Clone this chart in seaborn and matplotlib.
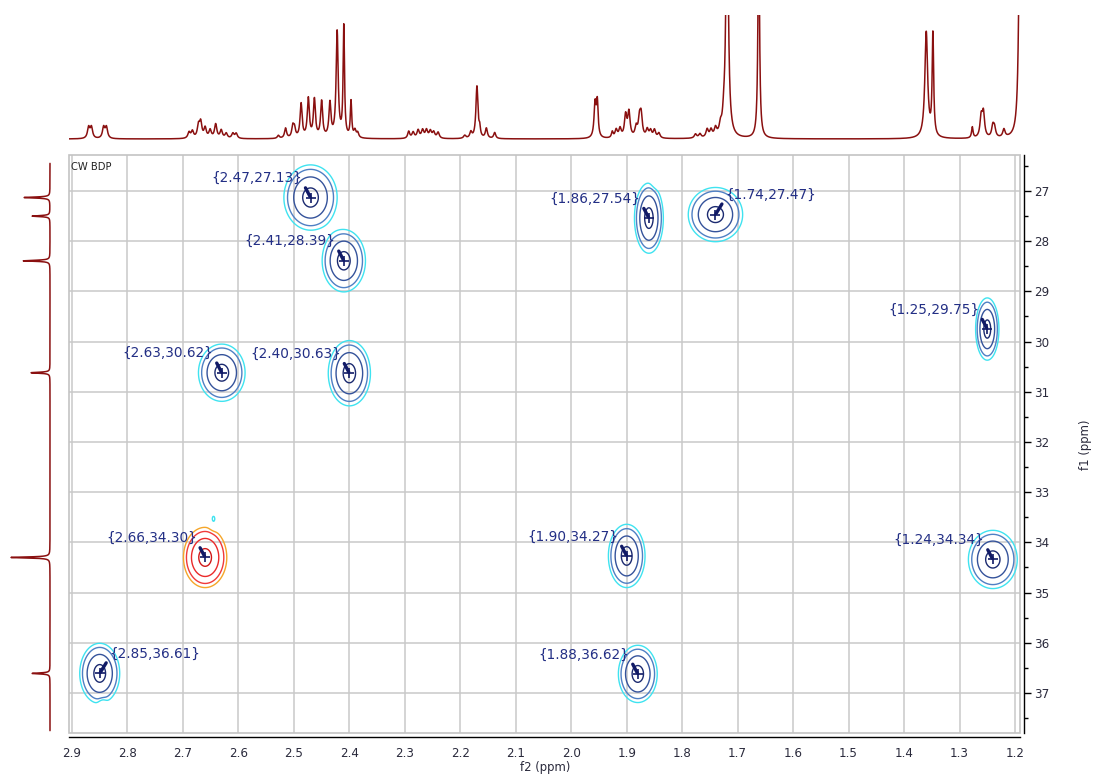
"""
plot.py
HSQC spectrum of CW BDP with 1H projection on top and 13C projection on the left.
Saves out.png (1094x774).
"""

import numpy as np
import matplotlib
matplotlib.use("Agg")
import matplotlib.pyplot as plt
import matplotlib.ticker as mticker
from matplotlib.patches import Rectangle
import seaborn as sns

# --- HSQC cross peaks (f2 = 1H ppm, f1 = 13C ppm) ---
peak_f2   = [2.47, 2.41, 1.86, 1.74, 1.25, 2.63, 2.40, 2.66, 1.90, 1.24, 2.85, 1.88]
peak_f1   = [27.13, 28.39, 27.54, 27.47, 29.75, 30.62, 30.63, 34.30, 34.27, 34.34, 36.61, 36.62]
peak_sign = [1, 1, 1, 1, 1, 1, 1, -1, 1, 1, 1, 1]
# half size of the outermost contour, ppm
peak_wx   = [0.048, 0.039, 0.026, 0.049, 0.021, 0.042, 0.038, 0.039, 0.033, 0.044, 0.036, 0.035]
peak_wy   = [0.65, 0.62, 0.70, 0.54, 0.62, 0.57, 0.65, 0.60, 0.63, 0.58, 0.60, 0.57]
label_side = ["left", "left", "left", "right", "left", "left", "left", "left",
              "left", "left", "right", "left"]

# tiny noise blobs seen in the map
art_f2  = [2.645, 2.845, 1.848]
art_f1  = [33.55, 37.28, 26.75]
art_amp = [0.13, -0.12, -0.12]

# --- 1H projection lines: ppm, height (px), half width (ppm) ---
h_ppm = [2.870, 2.865, 2.843, 2.838,
         2.689, 2.683, 2.672, 2.668, 2.660, 2.651, 2.641, 2.631, 2.622, 2.610, 2.604,
         2.528, 2.515, 2.502, 2.499, 2.487, 2.474, 2.463, 2.450, 2.435, 2.422, 2.410,
         2.397, 2.390, 2.385,
         2.293, 2.285, 2.276, 2.268, 2.261, 2.254, 2.248, 2.240,
         2.192, 2.181, 2.170, 2.165, 2.153, 2.138,
         1.957, 1.953,
         1.926, 1.919, 1.912, 1.902, 1.896, 1.883, 1.877, 1.874, 1.863, 1.857, 1.850, 1.842,
         1.776, 1.768, 1.755, 1.748, 1.740, 1.731, 1.725, 1.719, 1.662,
         1.360, 1.348,
         1.277, 1.261, 1.257, 1.240, 1.237, 1.220, 1.191]
h_int = [11, 11, 11, 11,
         6, 7, 12, 15, 10, 8, 14, 8, 5, 5, 5,
         3, 10, 11, 9, 34, 39, 38, 36, 34, 106, 111, 36, 7, 5,
         7, 6, 8, 8, 8, 7, 6, 6,
         3, 6, 52, 8, 10, 6,
         34, 34,
         6, 8, 9, 22, 25, 10, 17, 21, 8, 7, 8, 5,
         4, 4, 8, 7, 8, 8, 11, 260, 230,
         106, 102,
         11, 20, 24, 11, 9, 8, 260]
h_hw = [0.0025] * 4 + [0.0025] * 11 + [0.0022] * 10 + [0.0015] * 2 + [0.0022] * 3 \
       + [0.0025] * 8 + [0.0022, 0.0022, 0.0015, 0.0022, 0.0022, 0.0022] + [0.0018, 0.0018] \
       + [0.0025] * 12 + [0.0025] * 7 + [0.0016, 0.003] + [0.0016, 0.0016] \
       + [0.0025] * 6 + [0.0014]

# --- 13C projection lines ---
c_ppm = [27.13, 27.50, 28.39, 30.62, 34.30, 36.61]
c_int = [26, 18, 27, 19, 39, 18]

F2_LIM = (2.9054, 1.191)
F1_LIM = (37.797, 26.283)

NAVY      = "#232f85"
NAVY_LINE = "#111a66"
MAROON    = "#8a1010"
TICK_TXT  = "#2a2a3c"
POS_COLORS = ["#3fe3f0", "#4f80c4", "#35539b", "#1b2a70"]
NEG_COLORS = ["#d01818", "#ea2a2a", "#f03a3a", "#f5a62a"]

W, H = 1094, 774


def rect(x0, y0, x1, y1):
    return [x0 / W, 1 - y1 / H, (x1 - x0) / W, (y1 - y0) / H]


def lorentz(grid, centres, heights, hws):
    out = np.zeros_like(grid)
    for c, h, w in zip(centres, heights, hws):
        out += h * w ** 2 / ((grid - c) ** 2 + w ** 2)
    return out


sns.set_style("white")
plt.rcParams["font.family"] = ["DejaVu Sans"]

fig = plt.figure(figsize=(W / 100, H / 100), dpi=100)
ax = fig.add_axes(rect(69, 155, 1020, 733))
ax_top = fig.add_axes(rect(69, 15, 1020, 145))
ax_left = fig.add_axes(rect(5, 155, 60, 733))

# --- 2D map ---
gx = np.linspace(2.92, 1.18, 1400)
gy = np.linspace(26.2, 37.9, 800)
X, Y = np.meshgrid(gx, gy)
Z = np.zeros_like(X)
for x0, y0, wx, wy, sg in zip(peak_f2, peak_f1, peak_wx, peak_wy, peak_sign):
    sx, sy = wx / 2.146, wy / 2.146
    Z += sg * np.exp(-0.5 * ((X - x0) / sx) ** 2 - 0.5 * ((Y - y0) / sy) ** 2)
for x0, y0, a in zip(art_f2, art_f1, art_amp):
    Z += a * np.exp(-0.5 * ((X - x0) / 0.005) ** 2 - 0.5 * ((Y - y0) / 0.12) ** 2)

ax.contour(X, Y, Z, levels=[0.1, 0.18, 0.4, 0.82], colors=POS_COLORS, linewidths=1.0, zorder=3)
ax.contour(X, Y, Z, levels=[-0.82, -0.4, -0.18, -0.1], colors=NEG_COLORS, linewidths=1.0, zorder=3)

sns.scatterplot(x=peak_f2, y=peak_f1, marker="+", s=45, color=NAVY_LINE,
                linewidth=1.2, ax=ax, zorder=6)

for x0, y0, side in zip(peak_f2, peak_f1, label_side):
    if side == "left":
        off, ha, rel = (-6, 14), "right", (1, 0.25)
    else:
        off, ha, rel = (7, 14), "left", (0, 0.25)
    ax.annotate(f"{{{x0:.2f},{y0:.2f}}}", xy=(x0, y0), xytext=off,
                textcoords="offset points", ha=ha, va="center", fontsize=9.8, color=NAVY,
                arrowprops=dict(arrowstyle="-", color=NAVY_LINE, lw=2.4,
                                shrinkA=0, shrinkB=1, relpos=rel),
                zorder=7)

ax.text(0.002, 0.988, "CW BDP", transform=ax.transAxes, ha="left", va="top",
        fontsize=7.2, color="#222222")

ax.set_xlim(*F2_LIM)
ax.set_ylim(*F1_LIM)
ax.xaxis.set_major_locator(mticker.MultipleLocator(0.1))
ax.xaxis.set_minor_locator(mticker.MultipleLocator(0.05))
ax.xaxis.set_major_formatter(mticker.FormatStrFormatter("%.1f"))
ax.yaxis.set_major_locator(mticker.MultipleLocator(1))
ax.yaxis.set_minor_locator(mticker.MultipleLocator(0.5))
ax.yaxis.tick_right()
ax.grid(True, which="major", color="#c9c9c9", lw=1.1)
ax.set_axisbelow(True)

for s in ("left", "top"):
    ax.spines[s].set_visible(False)
for s in ("right", "bottom"):
    ax.spines[s].set_visible(True)
    ax.spines[s].set_color("black")
    ax.spines[s].set_linewidth(1.0)
    ax.spines[s].set_position(("outward", 3))
ax.add_patch(Rectangle((0, 0), 1, 1, transform=ax.transAxes, fill=False,
                       edgecolor="#c4c4c4", lw=1.2, clip_on=False, zorder=1))

ax.tick_params(axis="both", which="major", direction="out", length=5, width=1,
               labelsize=8.6, labelcolor=TICK_TXT, color="black", pad=2)
ax.tick_params(axis="both", which="minor", direction="out", length=3, width=1, color="black")
ax.tick_params(axis="y", which="both", left=False, right=True, labelleft=False, labelright=True)
ax.set_xlabel("")
ax.set_ylabel("")

fig.text(545 / W, 1 - 768 / H, "f2 (ppm)", ha="center", va="center", fontsize=8.4, color=TICK_TXT)
fig.text(1086 / W, 1 - 445 / H, "f1 (ppm)", ha="center", va="center", fontsize=8.4,
         color=TICK_TXT, rotation=90)

# --- 1H projection ---
h_grid = np.linspace(F2_LIM[0], F2_LIM[1], 8000)
h_trace = lorentz(h_grid, h_ppm, h_int, h_hw)
sns.lineplot(x=h_grid, y=h_trace, ax=ax_top, color=MAROON, linewidth=1.1,
             estimator=None, sort=False)
ax_top.set_xlim(*F2_LIM)
ax_top.set_ylim(-6, 124)
ax_top.axis("off")

# --- 13C projection (vertical trace, drawn in data order) ---
c_grid = np.linspace(26.45, 37.75, 4000)
c_trace = lorentz(c_grid, c_ppm, c_int, [0.012] * len(c_ppm))
ax_left.plot(c_trace, c_grid, color=MAROON, linewidth=1.1)
ax_left.set_ylim(*F1_LIM)
ax_left.set_xlim(45, -10)
ax_left.axis("off")

fig.savefig("out.png", dpi=100)
